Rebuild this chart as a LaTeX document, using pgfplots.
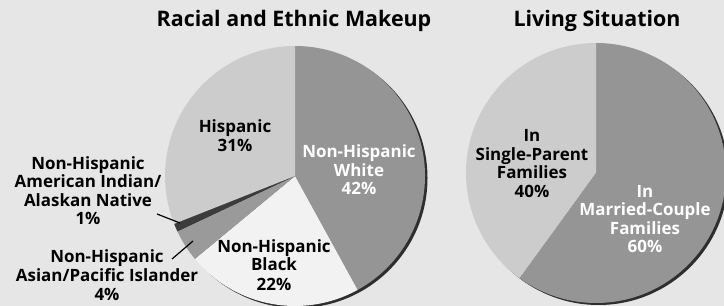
\documentclass[border=0pt]{standalone}
\usepackage{pgfplots}
\pgfplotsset{compat=1.18}
\usepackage{pgfplotstable}
\usepackage{fontspec}
\setmainfont{Open Sans}
\definecolor{bg}{HTML}{E6E6E6}
\definecolor{plight}{HTML}{CCCCCC}
\definecolor{pmid}{HTML}{959595}
\definecolor{pwhite}{HTML}{F2F2F2}
\definecolor{pasian}{HTML}{9A9A9A}
\definecolor{pdark}{HTML}{3C3C3C}
\definecolor{pshadow}{HTML}{2E2E2E}

\pgfplotstableread{
name value col
White 42 pmid
Black 22 pwhite
Asian 4 pasian
AIAN 1 pdark
Hispanic 31 plight
}\racetab
\pgfplotstableread{
name value col
Married 60 pmid
Single 40 plight
}\livetab

\newcommand\pierad{130}
\newcommand\drawpie[3]{% table, cx, cy (axis units = bp)
  \pgfmathsetmacro\shx{#2+2.5}\pgfmathsetmacro\shy{#3-2}%
  \fill[pshadow] (axis cs:\shx,\shy) circle[radius=\pierad bp];
  \pgfplotstablegetrowsof{#1}%
  \pgfmathtruncatemacro\nrows{\pgfplotsretval-1}%
  \gdef\cumang{90}%
  \foreach \i in {0,...,\nrows}{%
    \pgfplotstablegetelem{\i}{value}\of{#1}\let\val\pgfplotsretval
    \pgfplotstablegetelem{\i}{col}\of{#1}\let\colr\pgfplotsretval
    \pgfmathsetmacro\endang{\cumang-3.6*\val}%
    \fill[fill=\colr] (axis cs:#2,#3) -- ++(\cumang:\pierad bp) arc[start angle=\cumang,end angle=\endang,radius=\pierad bp] -- cycle;
    \global\let\cumang\endang
  }%
}
\newcommand\lbl{\fontsize{17}{19}\selectfont\bfseries}
\newcommand\ttl{\fontsize{21.5}{24}\selectfont\bfseries}
\newcommand\tl[4][black]{\node[anchor=base,font=\lbl,text=#1,inner sep=0pt] at (axis cs:#2,#3) {#4};}

\begin{document}
\begin{tikzpicture}
\begin{axis}[
  scale only axis, width=724bp, height=306bp,
  xmin=0, xmax=724, ymin=0, ymax=306,
  hide axis, clip=true]
\pgfplotsextra{
  \fill[bg] (axis cs:0,0) rectangle (axis cs:724,306);
  \drawpie{\racetab}{295}{130}
  \drawpie{\livetab}{596}{133}
  \node[anchor=base,font=\ttl,inner sep=0pt] at (axis cs:294,279) {Racial and Ethnic Makeup};
  \node[anchor=base,font=\ttl,inner sep=0pt] at (axis cs:597,279) {Living Situation};
  % left pie labels
  \tl{235}{173}{Hispanic}\tl{235}{154}{31\%}
  \tl[white]{359}{148}{Non-Hispanic}\tl[white]{359}{129}{White}\tl[white]{359}{111}{42\%}
  \tl{274}{53}{Non-Hispanic}\tl{274}{35}{Black}\tl{274}{16}{22\%}
  \tl{88}{136}{Non-Hispanic}\tl{88}{118}{American Indian/}\tl{88}{99}{Alaskan Native}\tl{88}{81}{1\%}
  \tl{107}{43}{Non-Hispanic}\tl{107}{25}{Asian/Pacific Islander}\tl{107}{6}{4\%}
  \draw[line width=1.2pt] (axis cs:157,92) -- (axis cs:180,83);
  \draw[line width=1.2pt] (axis cs:172,47) -- (axis cs:193,65);
  % right pie labels
  \tl{532}{164}{In}\tl{532}{145.5}{Single-Parent}\tl{532}{127}{Families}\tl{532}{108.5}{40\%}
  \tl[white]{645}{108}{In}\tl[white]{645}{90}{Married-Couple}\tl[white]{645}{71}{Families}\tl[white]{645}{53}{60\%}
}
\end{axis}
\end{tikzpicture}
\end{document}
